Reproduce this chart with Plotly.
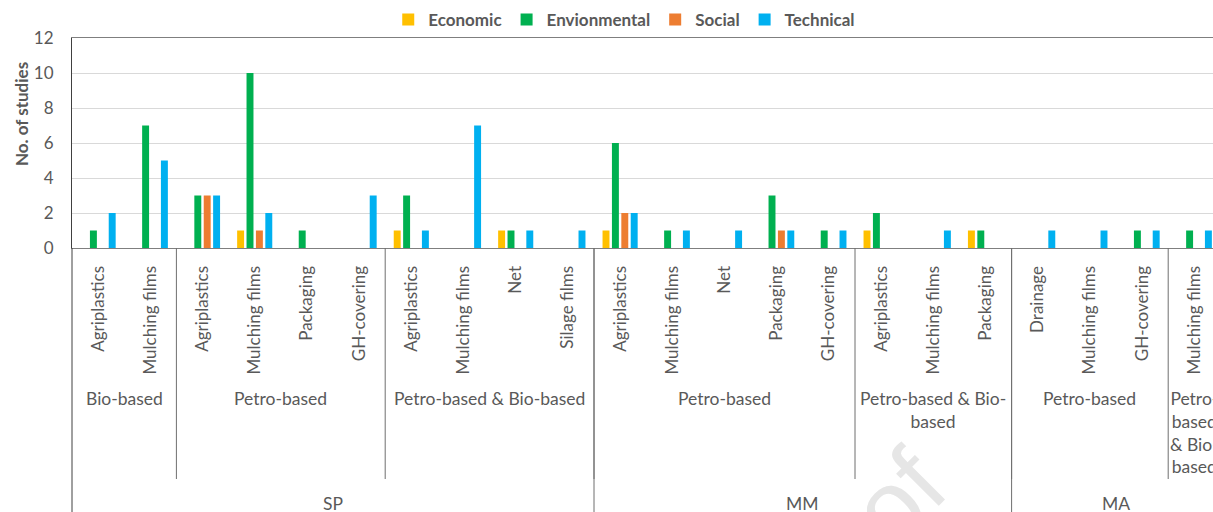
import re
import plotly.graph_objects as go

# Three-level category hierarchy: application / material / assessment method
applications = [
    "Agriplastics", "Mulching films",
    "Agriplastics", "Mulching films", "Packaging", "GH-covering",
    "Agriplastics", "Mulching films", "Net", "Silage films",
    "Agriplastics", "Mulching films", "Net", "Packaging", "GH-covering",
    "Agriplastics", "Mulching films", "Packaging",
    "Drainage", "Mulching films", "GH-covering",
    "Mulching films",
]
materials = (
    ["Bio-based"] * 2 + ["Petro-based"] * 4 + ["Petro-based & Bio-based"] * 4
    + ["Petro-based"] * 5 + ["Petro-based & Bio-based"] * 3
    + ["Petro-based"] * 3 + ["Petro-based & Bio-based"] * 1
)
methods = ["SP"] * 10 + ["MM"] * 8 + ["MA"] * 4

# Number of studies per dimension
economic =      [0, 0, 0, 1, 0, 0, 1, 0, 1, 0, 1, 0, 0, 0, 0, 1, 0, 1, 0, 0, 0, 0]
environmental = [1, 7, 3, 10, 1, 0, 3, 0, 1, 0, 6, 1, 0, 3, 1, 2, 0, 1, 0, 0, 1, 1]
social =        [0, 0, 3, 1, 0, 0, 0, 0, 0, 0, 2, 0, 0, 1, 0, 0, 0, 0, 0, 0, 0, 0]
technical =     [2, 5, 3, 2, 0, 3, 1, 7, 1, 1, 2, 1, 1, 1, 1, 0, 1, 0, 1, 1, 1, 1]

series_names = ["Economic", "Envionmental", "Social", "Technical"]
series_colors = ["#FFC000", "#00B050", "#ED7D31", "#00B0F0"]

TEXT = "#595959"
FONT = "Lato"

W, H = 1213, 512
ML, MT = 72, 38
PLOT_BOTTOM = 248
PLOT_H = PLOT_BOTTOM - MT


def py(pix):
    """Pixel row -> paper y coordinate."""
    return (PLOT_BOTTOM - pix) / PLOT_H


def runs(labels, parent=None):
    """Consecutive runs of identical labels (respecting parent boundaries)."""
    out = []
    start = 0
    for i in range(1, len(labels) + 1):
        brk = i == len(labels) or labels[i] != labels[start]
        if parent is not None and i < len(labels) and parent[i] != parent[start]:
            brk = True
        if brk:
            out.append((labels[start], start, i - 1))
            start = i
    return out


def wrap(text, max_chars):
    tokens = re.findall(r"[^\s-]+-?\s*", text)
    lines, cur = [], ""
    for t in tokens:
        if cur and len((cur + t).rstrip()) > max_chars:
            lines.append(cur.rstrip())
            cur = t
        else:
            cur += t
    if cur:
        lines.append(cur.rstrip())
    return "<br>".join(lines)


x = list(range(len(applications)))
values = [economic, environmental, social, technical]

fig = go.Figure()
for name, vals, col in zip(series_names, values, series_colors):
    fig.add_trace(go.Bar(x=x, y=vals, name=name, marker=dict(color=col, line=dict(width=0))))

n_visible = (W - ML) / 52.2
fig.update_layout(
    width=W, height=H,
    margin=dict(l=ML, r=0, t=MT, b=H - PLOT_BOTTOM, pad=0),
    paper_bgcolor="white", plot_bgcolor="white",
    barmode="group", bargap=0.28, bargroupgap=0.26,
    font=dict(family=FONT, color=TEXT, size=17),
    showlegend=True,
    legend=dict(orientation="h", x=0.484, xanchor="center", y=py(20), yanchor="middle",
                font=dict(family=FONT, size=17, color=TEXT, weight="bold"),
                itemwidth=30, tracegroupgap=0, bgcolor="rgba(0,0,0,0)"),
    xaxis=dict(range=[-0.5, -0.5 + n_visible], tickvals=x, ticktext=applications,
               tickangle=-90, ticks="", showgrid=False, zeroline=False,
               showline=True, linecolor="#7F7F7F", linewidth=1.3, mirror=True,
               tickfont=dict(family=FONT, size=17, color=TEXT), ticklabelstandoff=10),
    yaxis=dict(range=[0, 12], dtick=2, showgrid=True, gridcolor="#D9D9D9", gridwidth=1,
               zeroline=False, showline=True, linecolor="#404040", linewidth=1, ticks="",
               tickfont=dict(family=FONT, size=17, color=TEXT), ticklabelstandoff=14),
)

# Axis title
fig.add_annotation(text="<b>No. of studies</b>", xref="paper", yref="paper", x=0, y=py(114),
                   xshift=-51, xanchor="center", yanchor="middle", textangle=-90,
                   showarrow=False, font=dict(family=FONT, size=17, color=TEXT))

line_dark = dict(color="#404040", width=1)
line_grey = dict(color="#6F6F6F", width=1)

# Outer left border of the category table
fig.add_shape(type="line", xref="paper", yref="paper", x0=0, x1=0, y0=0, y1=py(H),
              line=line_dark)

# Material level: labels and separators
for label, a, b in runs(materials, methods):
    span = b - a + 1
    fig.add_annotation(text=wrap(label, int(span * 6.1)), xref="x", yref="paper",
                       x=(a + b) / 2, y=py(386), xanchor="center", yanchor="top",
                       showarrow=False, font=dict(family=FONT, size=17.5, color=TEXT))
    if a > 0:
        fig.add_shape(type="line", xref="x", yref="paper", x0=a - 0.5, x1=a - 0.5,
                      y0=0, y1=py(479), line=line_grey)

# Method level: labels and full-height separators
for label, a, b in runs(methods):
    fig.add_annotation(text=label, xref="x", yref="paper", x=(a + b) / 2, y=py(503),
                       xanchor="center", yanchor="middle", showarrow=False,
                       font=dict(family=FONT, size=17.5, color=TEXT))
    if a > 0:
        fig.add_shape(type="line", xref="x", yref="paper", x0=a - 0.5, x1=a - 0.5,
                      y0=0, y1=py(H), line=line_grey)

# Faint diagonal watermark
fig.add_annotation(text="of", xref="paper", yref="paper", x=(898 - ML) / (W - ML), y=py(497),
                   xanchor="center", yanchor="middle", textangle=-45, showarrow=False,
                   font=dict(family="Liberation Sans", size=100, color="#E6E6E6"))

fig.write_html("out.html")
